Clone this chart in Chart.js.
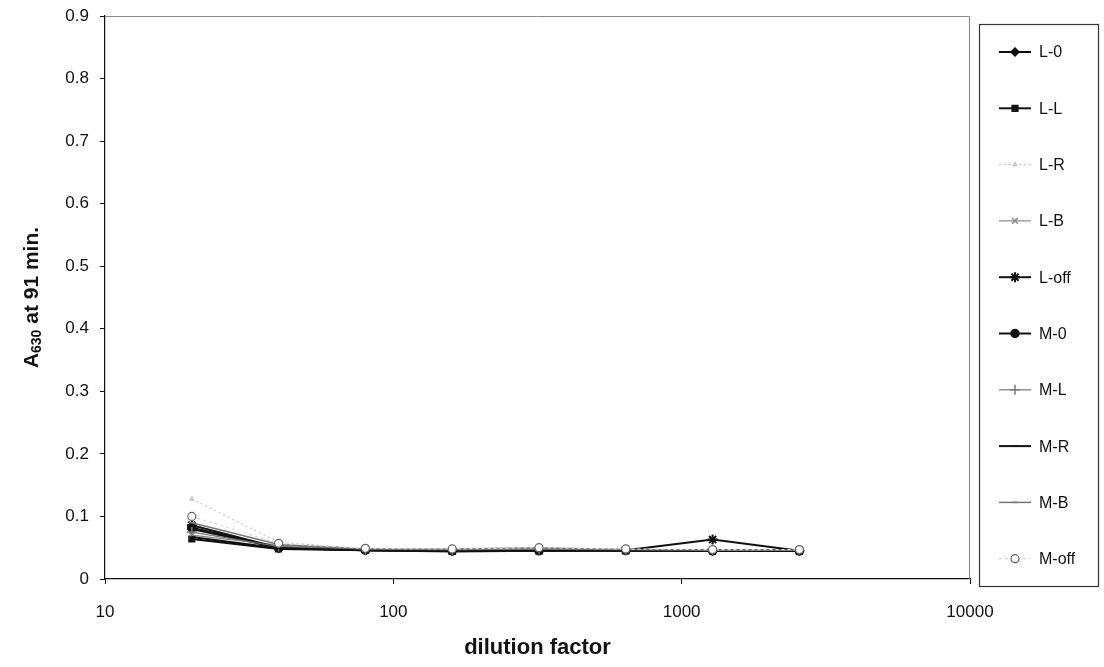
<!DOCTYPE html>
<html>
<head>
<meta charset="utf-8">
<script src="https://cdn.jsdelivr.net/npm/chart.js@4/dist/chart.umd.min.js"></script>
<style>
  html, body { margin: 0; padding: 0; background: #fff; }
  #wrap { width: 1104px; height: 667px; }
</style>
</head>
<body>
<div id="wrap"><canvas id="chart" width="1104" height="667"></canvas></div>
<script>
// dilution factors and A630 readings per sample
const dilutions = [20, 40, 80, 160, 320, 640, 1280, 2560];
const xTicks = [10, 100, 1000, 10000];
const seriesNames = ['L-0', 'L-L', 'L-R', 'L-B', 'L-off', 'M-0', 'M-L', 'M-R', 'M-B', 'M-off'];

const L0   = [0.080, 0.050, 0.046, 0.045, 0.046, 0.046, 0.045, 0.045];
const LL   = [0.064, 0.048, 0.046, 0.044, 0.045, 0.045, 0.045, 0.045];
const LR   = [0.128, 0.059, 0.048, 0.047, 0.050, 0.047, 0.045, 0.046];
const LB   = [0.070, 0.054, 0.047, 0.048, 0.050, 0.047, 0.046, 0.046];
const Loff = [0.086, 0.050, 0.047, 0.045, 0.047, 0.046, 0.063, 0.045];
const M0   = [0.082, 0.050, 0.046, 0.045, 0.045, 0.046, 0.045, 0.045];
const ML   = [0.075, 0.052, 0.047, 0.046, 0.047, 0.046, 0.046, 0.046];
const MR   = [0.067, 0.049, 0.046, 0.045, 0.046, 0.045, 0.045, 0.045];
const MB   = [0.090, 0.055, 0.048, 0.047, 0.048, 0.047, 0.046, 0.046];
const Moff = [0.100, 0.057, 0.049, 0.048, 0.050, 0.048, 0.047, 0.047];

const FONT = '"Liberation Sans", Arial, sans-serif';

function series(i, values, color, width, style, radius, extra) {
    return Object.assign({
        label: seriesNames[i],
        order: seriesNames.length - i, // later series on top, like the original
        data: dilutions.map((d, k) => ({ x: d, y: values[k] })),
        borderColor: color,
        backgroundColor: color,
        borderWidth: width,
        pointStyle: style,
        pointRadius: radius,
        pointBorderColor: color,
        pointBackgroundColor: color,
        pointBorderWidth: 1.5,
        tension: 0,
        fill: false
    }, extra || {});
}

const datasets = [
    series(0, L0, '#111', 2, 'rectRot', 4),
    series(1, LL, '#111', 2, 'rect', 4),
    series(2, LR, '#c8c8c8', 1.2, 'triangle', 2, { borderDash: [2, 3] }),
    series(3, LB, '#8a8a8a', 1.2, 'crossRot', 4),
    series(4, Loff, '#111', 2, 'star', 5, { pointBorderWidth: 2 }),
    series(5, M0, '#111', 2, 'circle', 4),
    series(6, ML, '#777', 1.2, 'cross', 5),
    series(7, MR, '#111', 2, 'line', 3),
    series(8, MB, '#777', 1.5, 'line', 3),
    series(9, Moff, '#d8d8d8', 1.2, 'circle', 4, { borderDash: [3, 3], pointBackgroundColor: '#fff', pointBorderColor: '#666', pointBorderWidth: 1.2 })
];

// frame, axis titles and the boxed legend on the right
const decorations = {
    id: 'decorations',
    afterDraw(chart) {
        const ctx = chart.ctx;
        const a = chart.chartArea;
        ctx.save();
        // grey frame top/right
        ctx.strokeStyle = '#888';
        ctx.lineWidth = 1;
        ctx.beginPath();
        ctx.moveTo(a.left, a.top + 0.5);
        ctx.lineTo(a.right - 0.5, a.top + 0.5);
        ctx.lineTo(a.right - 0.5, a.bottom);
        ctx.stroke();

        // y title with subscript
        ctx.fillStyle = '#111';
        ctx.translate(32, (a.top + a.bottom) / 2);
        ctx.rotate(-Math.PI / 2);
        ctx.textBaseline = 'middle';
        const big = 'bold 21px ' + FONT, small = 'bold 14px ' + FONT;
        ctx.font = big;
        const wA = ctx.measureText('A').width;
        const wRest = ctx.measureText(' at 91 min.').width;
        ctx.font = small;
        const wSub = ctx.measureText('630').width;
        let x = -(wA + wSub + wRest) / 2;
        ctx.font = big;
        ctx.textAlign = 'left';
        ctx.fillText('A', x, 0);
        x += wA;
        ctx.font = small;
        ctx.fillText('630', x, 5);
        x += wSub;
        ctx.font = big;
        ctx.fillText(' at 91 min.', x, 0);
        ctx.restore();

        // x title
        ctx.save();
        ctx.fillStyle = '#111';
        ctx.font = 'bold 22px ' + FONT;
        ctx.textAlign = 'center';
        ctx.textBaseline = 'middle';
        ctx.fillText('dilution factor', (a.left + a.right) / 2, 648);

        // legend box
        ctx.strokeStyle = '#333';
        ctx.lineWidth = 1.2;
        ctx.strokeRect(979.5, 24.5, 119, 562);
        ctx.font = '16px ' + FONT;
        ctx.textAlign = 'left';
        chart.data.datasets.forEach((ds, i) => {
            const y = 52 + i * 56.3;
            ctx.save();
            ctx.strokeStyle = ds.borderColor;
            ctx.lineWidth = ds.borderWidth;
            ctx.setLineDash(ds.borderDash || []);
            ctx.beginPath();
            ctx.moveTo(999, y);
            ctx.lineTo(1031, y);
            ctx.stroke();
            ctx.restore();
            ctx.save();
            ctx.strokeStyle = ds.pointBorderColor;
            ctx.fillStyle = ds.pointBackgroundColor;
            ctx.lineWidth = ds.pointBorderWidth;
            Chart.helpers.drawPoint(ctx, { pointStyle: ds.pointStyle, radius: ds.pointRadius, rotation: 0, borderWidth: ds.pointBorderWidth }, 1015, y);
            ctx.restore();
            ctx.fillStyle = '#111';
            ctx.fillText(ds.label, 1039, y + 1);
        });
        ctx.restore();
    }
};

new Chart(document.getElementById('chart'), {
    type: 'line',
    data: { datasets: datasets },
    plugins: [decorations],
    options: {
        responsive: false,
        animation: false,
        layout: { padding: { left: 0, right: 134, top: 16, bottom: 0 } },
        plugins: { legend: { display: false }, tooltip: { enabled: false } },
        scales: {
            x: {
                type: 'logarithmic',
                min: 10,
                max: 10000,
                afterBuildTicks: scale => { scale.ticks = xTicks.map(v => ({ value: v })); },
                afterFit: scale => { scale.height = 88; scale.paddingLeft = 0; scale.paddingRight = 0; },
                ticks: {
                    color: '#111',
                    font: { family: FONT, size: 17 },
                    padding: 18,
                    maxRotation: 0,
                    callback: v => String(v)
                },
                grid: { drawOnChartArea: false, drawTicks: true, tickLength: 5, color: '#111' },
                border: { color: '#111', width: 1.2 }
            },
            y: {
                min: 0,
                max: 0.9,
                afterFit: scale => { scale.width = 105; scale.paddingTop = 0; scale.paddingBottom = 0; },
                ticks: {
                    stepSize: 0.1,
                    color: '#111',
                    font: { family: FONT, size: 17 },
                    padding: 11,
                    callback: v => String(Math.round(v * 10) / 10)
                },
                grid: { drawOnChartArea: false, drawTicks: true, tickLength: 5, color: '#111' },
                border: { color: '#111', width: 1.2 }
            }
        }
    }
});
</script>
</body>
</html>
